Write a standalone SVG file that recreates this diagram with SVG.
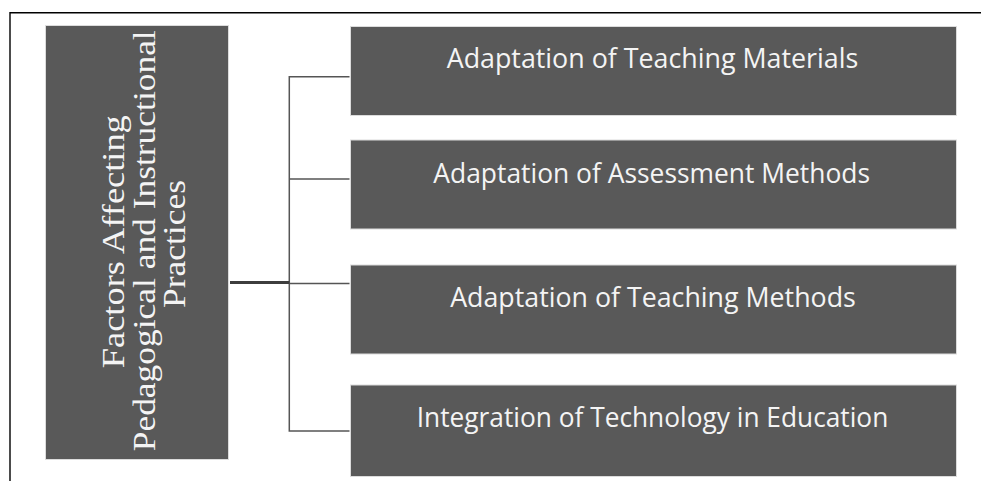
<svg xmlns="http://www.w3.org/2000/svg" width="981" height="481" viewBox="0 0 981 481">
<style>
.box{fill:#595959;stroke:#dcdcdc;stroke-width:1}
.lbl{font-family:"Open Sans","Liberation Sans",sans-serif;font-size:27px;fill:#f4f4f4;text-anchor:middle}
.ttl{font-family:"Liberation Serif","DejaVu Serif",serif;font-size:32px;fill:#f4f4f4;text-anchor:middle}
.ln{stroke:#555555;stroke-width:1.5;fill:none}
</style>
<rect x="0" y="0" width="981" height="481" fill="#ffffff"/>
<path d="M10,481 V12.7 H981" fill="none" stroke="#000000" stroke-width="1.4"/>
<g id="root">
<rect class="box" x="45.5" y="25.5" width="183" height="434"/>
<g transform="translate(0,241.5) rotate(-90)">
<text class="ttl" x="-0.2" y="123.5" textLength="253" lengthAdjust="spacingAndGlyphs">Factors Affecting</text>
<text class="ttl" x="0.7" y="155" textLength="421" lengthAdjust="spacingAndGlyphs">Pedagogical and Instructional</text>
<text class="ttl" x="-2.5" y="185" textLength="128" lengthAdjust="spacingAndGlyphs">Practices</text>
</g>
</g>
<g id="connectors">
<path class="ln" d="M349.5,76.7 H289.3 V431 H349.5"/>
<path class="ln" d="M289.3,179 H349.5"/>
<path class="ln" d="M289.3,283.5 H349.5"/>
<path d="M230,282.5 H289.3" stroke="#3d3d3d" stroke-width="3" fill="none"/>
</g>
<g id="n1">
<rect class="box" x="350.5" y="26.5" width="606" height="89"/>
<text class="lbl" x="652.5" y="68.3" textLength="411.6" lengthAdjust="spacingAndGlyphs">Adaptation of Teaching Materials</text>
</g>
<g id="n2">
<rect class="box" x="350.5" y="140" width="606" height="89"/>
<text class="lbl" x="651.7" y="183" textLength="436.7" lengthAdjust="spacingAndGlyphs">Adaptation of Assessment Methods</text>
</g>
<g id="n3">
<rect class="box" x="350.5" y="265" width="606" height="89"/>
<text class="lbl" x="653" y="307" textLength="405.6" lengthAdjust="spacingAndGlyphs">Adaptation of Teaching Methods</text>
</g>
<g id="n4">
<rect class="box" x="350.5" y="385" width="606" height="91.5"/>
<text class="lbl" x="652.5" y="426.7" textLength="471.6" lengthAdjust="spacingAndGlyphs">Integration of Technology in Education</text>
</g>
</svg>
